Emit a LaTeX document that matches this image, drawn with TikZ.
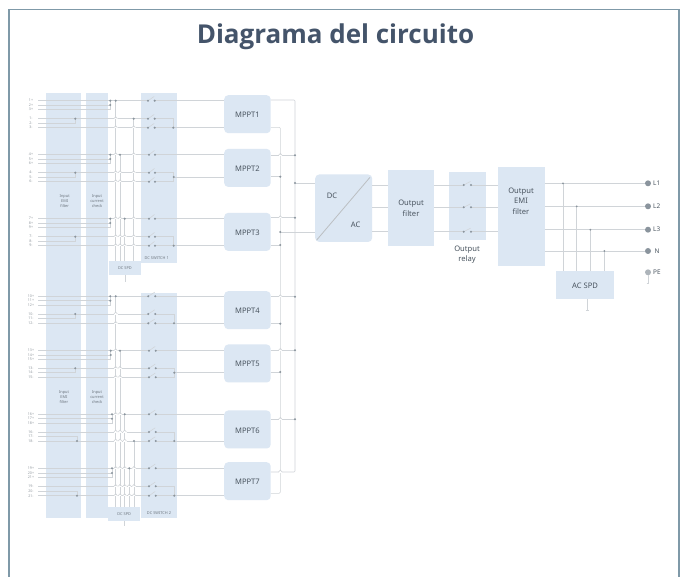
\documentclass[tikz,border=0pt]{standalone}
\usepackage{fontspec}
\setmainfont{Noto Sans}
\newfontfamily\titlefont[BoldFont={Open Sans Bold}]{Open Sans}
\definecolor{blk}{HTML}{DCE7F3}
\definecolor{wirec}{HTML}{D0D4D8}
\definecolor{dotc}{HTML}{8A949D}
\definecolor{txt}{HTML}{4A5560}
\definecolor{titlec}{HTML}{44546A}
\definecolor{framec}{HTML}{7F99A8}
\tikzset{
  blockbox/.style={fill=blk,draw=none,inner sep=0pt,text=txt,align=center},
  roundbox/.style={blockbox,rounded corners=4pt},
  wire/.style={draw=wirec,line width=0.55pt},
  tiny/.style={text=txt!80,inner sep=0pt,align=center,font=\fontsize{3.9}{5}\selectfont},
  midl/.style={text=txt,inner sep=0pt,align=center,font=\fontsize{7.6}{10.6}\selectfont},
  rowlab/.style={text=txt!60,inner sep=0pt,font=\fontsize{3.6}{4}\selectfont},
  termdot/.style={fill=dotc,draw=none,circle,minimum size=6pt,inner sep=0pt},
  termlab/.style={text=txt,inner sep=0pt,anchor=west,font=\fontsize{6.4}{8}\selectfont},
}
\newcommand{\dotat}[2]{\fill[dotc] (#1,#2) circle (1.15pt);}
\newcommand{\hopat}[2]{%
  \draw[white,line width=1.2pt] ({#1-1.8},#2) -- ({#1+1.8},#2);
  \draw[wire] ({#1-1.8},#2) .. controls ({#1-1.4},{#2-2.6}) and ({#1+1.4},{#2-2.6}) .. ({#1+1.8},#2);}
\newcommand{\blockat}[7][blockbox]{%
  \node[#1,minimum width={(#5-#3)*1pt},minimum height={(#6-#4)*1pt},anchor=north west] (#2) at (#3,#4) {};
}
\begin{document}
\begin{tikzpicture}[x=1pt,y=-1pt]
\useasboundingbox (0,0) rectangle (686,577);
\fill[white] (0,0) rectangle (686,577);
\draw[framec,line width=1.6pt] (9,577) -- (9,9.5) -- (679,9.5) -- (679,577);
\node[text=titlec,inner sep=0pt,font=\titlefont\bfseries\fontsize{26}{30}\selectfont] (title) at (335.5,37) {Diagrama del circuito};

% left columns
\blockat{emiF}{46}{93}{81}{518}{}
\blockat{curC}{85.7}{93}{107.7}{518}{}
\blockat{swA}{140.7}{93}{176.7}{263}{}
\blockat{swB}{140.7}{293}{176.7}{518}{}
\blockat{spdA}{108.7}{261}{140.7}{275}{}
\blockat{spdB}{108}{507}{140}{521}{}
% MPPT
\foreach \n/\yy in {1/95,2/148.7,3/212.7,4/291,5/344.3,6/410.3,7/462}
  \blockat[roundbox]{M\n}{224}{\yy}{270.5}{\yy+38}{};
\foreach \n in {1,...,7}
  \node[midl] (Mt\n) at ([yshift=-0.8pt]M\n.center) {MPPT\n};

% input groups
\foreach \a/\b/\c/\d/\e/\f/\ya/\yb/\yc/\yd/\ye/\yf/\mp/\mn/\yn/\sa/\sb/\sm/\yo/\M [count=\g] in {
 1+/2+/3+/1-/2-/3-/100.7/105/109.7/118.7/123.3/127.7/110.3/75.3/118.7/148/154.7/173.3/127.7/M1,
 4+/5+/6+/4-/5-/6-/154.7/159/163.7/172.7/177/181.7/110.3/75.3/172.7/149/155/173.7/177/M2,
 7+/8+/9+/7-/8-/9-/218.7/223/227.7/236.7/241/245.7/110.3/75.3/236.7/149/155/173.7/245.7/M3,
 10+/11+/12+/10-/11-/12-/296.3/300.7/305/314/318.7/323.3/110.3/75.3/314/148.3/155.3/174/323.3/M4,
 13+/14+/15+/13-/14-/15-/350.7/355/359.3/368.3/372.7/377.3/110.7/75.3/368.3/149/155.7/174.3/372.7/M5,
 16+/17+/18+/16-/17-/18-/414.3/418.7/423.3/432/436.7/441/112/77/441/149/155.7/174.3/441/M6,
 19+/20+/21+/19-/20-/21-/468.3/473/477.3/486.3/491/495.7/112/77/495.7/149/155.7/174.3/495.7/M7}{
  \node[rowlab] (la\g) at (31,\ya) {\a};
  \node[rowlab] (lb\g) at (31,\yb) {\b};
  \node[rowlab] (lc\g) at (31,\yc) {\c};
  \node[rowlab] (ld\g) at (31,\yd) {\d};
  \node[rowlab] (le\g) at (31,\ye) {\e};
  \node[rowlab] (lf\g) at (31,\yf) {\f};
  % plus rows
  \draw[wire] (38,\ya) -- (\sa,\ya);
  \draw[wire] (\sb,\ya) -- (\M.west |- 0,\ya);
  \draw[wire] (38,\yb) -- (\mp,\yb);
  \draw[wire] (38,\yc) -- (\mp,\yc) -- (\mp,\ya);
  \dotat{\mp}{\ya} \dotat{\mp}{\yb}
  % minus rows
  \draw[wire] (38,\yd) -- (\sa,\yd);
  \draw[wire] (38,\yf) -- (\sa,\yf);
  \draw[wire] (38,\ye) -- (\mn,\ye) -- (\mn,\yn);
  \dotat{\mn}{\yn}
  \draw[wire] (\sb,\yd) -- (\sm,\yd) -- (\sm,\yf) -- (\sb,\yf);
  \draw[wire] (\sm,\yo) -- (\M.west |- 0,\yo);
  \dotat{\sm}{\yo}
  % switches
  \foreach \yy in {\ya,\yd,\yf}{
    \draw[wire] (\sa,\yy) -- ({\sb-0.5},{\yy-4.2});
    \dotat{\sa}{\yy} \dotat{\sb}{\yy}
  }
}
% SPD taps
\foreach \x/\yy/\yz in {115.7/100.7/261,133.7/118.7/261,120/154.7/261,124.7/218.7/261,
                        115.7/296.3/507,120/350.7/507,124.7/414.3/507,129.3/468.3/507,134/441/507}{
  \draw[wire] (\x,\yy) -- (\x,\yz);
  \dotat{\x}{\yy}
}
\foreach \x/\yy in {115.7/118.7,115.7/127.7,133.7/127.7,115.7/154.7,133.7/154.7,
  115.7/172.7,120/172.7,133.7/172.7,115.7/181.7,120/181.7,133.7/181.7,
  115.7/218.7,120/218.7,133.7/218.7,
  115.7/236.7,120/236.7,124.7/236.7,133.7/236.7,115.7/245.7,120/245.7,124.7/245.7,133.7/245.7,
  115.7/314,115.7/323.3,115.7/350.7,
  115.7/368.3,120/368.3,115.7/377.3,120/377.3,
  115.7/414.3,120/414.3,
  115.7/432,120/432,124.7/432,115.7/441,120/441,124.7/441,
  115.7/468.3,120/468.3,124.7/468.3,134/468.3,
  115.7/486.3,120/486.3,124.7/486.3,129.3/486.3,134/486.3,
  115.7/495.7,120/495.7,124.7/495.7,129.3/495.7,134/495.7}
  {\hopat{\x}{\yy}}
\draw[wire] (spdA.south) -- ++(0,7);
\draw[wire] (spdB.south) -- ++(0,4.5);
% left labels
\node[tiny] (t1) at (64.7,201) {Input\\EMI\\filter};
\node[tiny] (t2) at (97,201) {Input\\current\\check};
\node[tiny] (t3) at (64,397) {Input\\EMI\\filter};
\node[tiny] (t4) at (97,397) {Input\\current\\check};
\node[tiny] (t5) at (156.7,257.7) {DC SWITCH 1};
\node[tiny] (t6) at (159,512.7) {DC SWITCH 2};
\node[tiny] (t7) at (spdA.center) {DC SPD};
\node[tiny] (t8) at (spdB.center) {DC SPD};

% right side blocks
\blockat[roundbox]{conv}{315}{174.3}{372}{241.7}{}
\blockat{ofil}{388}{170}{433.7}{245.7}{}
\blockat{orel}{449}{172.3}{485.3}{240}{}
\blockat{oemi}{498}{166.7}{544.3}{265.7}{}
\blockat{acspd}{556}{271.3}{613.7}{299}{}
\draw[draw=wirec!90!black,line width=0.8pt] (370,177.3) -- (316.7,240);
\node[midl] (tdc) at (332,196) {DC};
\node[midl] (tac) at (355.7,224.3) {AC};
\node[midl] (tof) at (ofil.center) {Output\\filter};
\node[midl] (tor) at (467,254.5) {Output\\relay};
\node[midl] (toe) at (521,201) {Output\\EMI\\filter};
\node[midl] (tas) at (acspd.center) {AC SPD};

% MPPT outputs and DC buses
\draw[wire,rounded corners=1pt] (M1.east |- 0,100) -- (295,100) -- (295,472) -- (M7.east |- 0,472);
\draw[wire,rounded corners=1pt] (M1.east |- 0,127.3) -- (280.3,127.3) -- (280.3,493.3) -- (M7.east |- 0,493.3);
\foreach \n/\yy in {2/155.3,3/217.7,4/296.7,5/350.3,6/419.3}{
  \draw[wire] (M\n.east |- 0,\yy) -- (295,\yy);
  \dotat{295}{\yy}
}
\foreach \n/\yy in {2/176.7,3/245,4/323.7,5/372}{
  \draw[wire] (M\n.east |- 0,\yy) -- (280.3,\yy);
  \dotat{280.3}{\yy}
}
\foreach \yy in {155.3,217.7,296.7,350.3,419.3,472}{\hopat{280.3}{\yy}}
\draw[wire] (295,183) -- (conv.west |- 0,183); \dotat{295}{183}
\draw[wire] (280.3,232) -- (conv.west |- 0,232); \dotat{280.3}{232}

% AC chain
\foreach \yy in {185,207.3,231.7}{
  \draw[wire] (conv.east |- 0,\yy) -- (ofil.west |- 0,\yy);
  \draw[wire] (ofil.east |- 0,\yy) -- (463.7,\yy);
  \draw[wire] (471,\yy) -- (oemi.west |- 0,\yy);
  \draw[wire] (463.7,\yy) -- (470.5,{\yy-3.5});
  \dotat{463.7}{\yy} \dotat{471}{\yy}
}
\node[termdot] (pL1) at (648,183.3) {};
\node[termdot] (pL2) at (648,206.3) {};
\node[termdot] (pL3) at (648,229.7) {};
\node[termdot] (pN) at (648,251) {};
\node[termdot,fill=dotc!70] (pPE) at (648,272.3) {};
\foreach \p/\x/\yy in {pL1/563/183.3,pL2/576.7/206.3,pL3/590.3/229.7,pN/604.3/251}{
  \draw[wire] (oemi.east |- \p) -- (\p);
  \draw[wire] (\x,\yy) -- (\x,271.3);
  \fill[dotc] (\x,\yy) circle (1pt);
}
\node[termlab] (lL1) at (653,183.3) {L1};
\node[termlab] (lL2) at (653,206.3) {L2};
\node[termlab] (lL3) at (653,229.7) {L3};
\node[termlab] (lN) at (654.5,251) {N};
\node[termlab] (lPE) at (653,272.3) {PE};
\draw[wire] (pPE) -- (648,283);
\draw[wire] (646.7,283) -- (649.3,283);
\draw[wire] (acspd.south -| 587.3,0) -- (587.3,310);
\draw[wire] (585.8,310.5) -- (588.8,310.5);
\end{tikzpicture}
\end{document}
